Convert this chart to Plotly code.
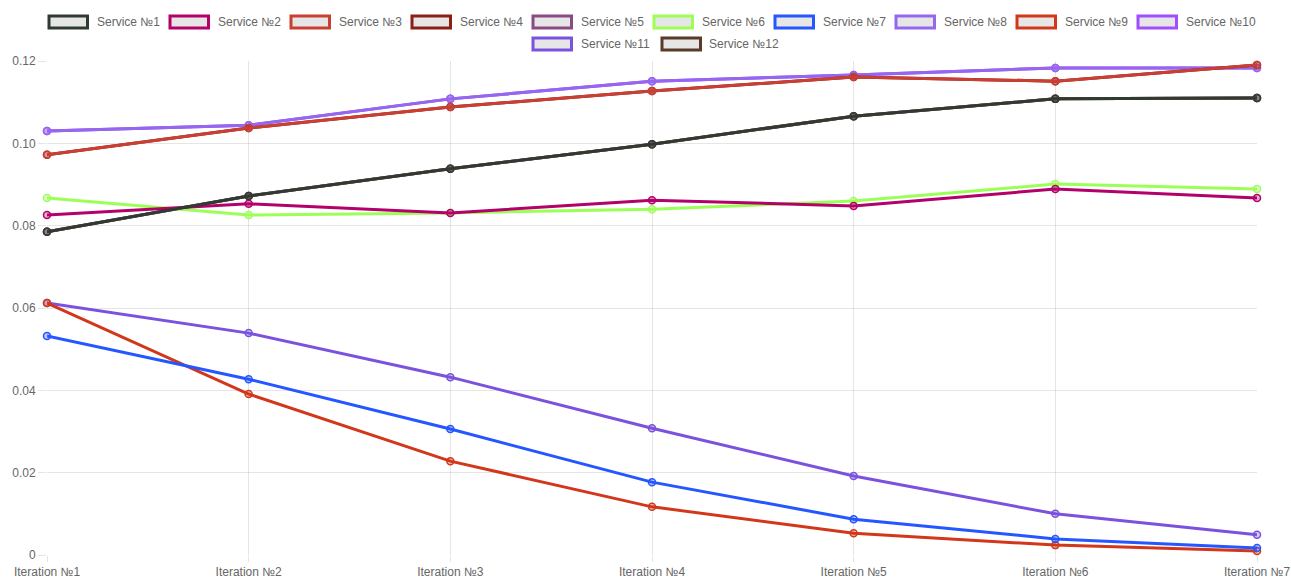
import plotly.graph_objects as go

iterations = ["Iteration №1", "Iteration №2", "Iteration №3", "Iteration №4",
              "Iteration №5", "Iteration №6", "Iteration №7"]

names = ["Service №1", "Service №2", "Service №3", "Service №4", "Service №5", "Service №6",
         "Service №7", "Service №8", "Service №9", "Service №10", "Service №11", "Service №12"]

colors = ["#2e3b2e", "#b3006b", "#c93f33", "#8c1f14", "#8a4a82", "#9cff57",
          "#2457ff", "#9467ee", "#d2371b", "#a24dff", "#7a52de", "#5c3a2a"]

s1 = [0.0785, 0.0872, 0.0938, 0.0998, 0.1066, 0.1108, 0.1110]
s2 = [0.0826, 0.0853, 0.0831, 0.0862, 0.0848, 0.0889, 0.0867]
s3 = [0.0972, 0.1037, 0.1088, 0.1127, 0.1161, 0.1151, 0.1190]
s4 = [0.0972, 0.1037, 0.1088, 0.1127, 0.1161, 0.1151, 0.1190]
s5 = [0.0785, 0.0872, 0.0938, 0.0998, 0.1066, 0.1108, 0.1110]
s6 = [0.0867, 0.0826, 0.0831, 0.0840, 0.0860, 0.0901, 0.0889]
s7 = [0.0532, 0.0427, 0.0306, 0.0177, 0.0087, 0.0039, 0.0017]
s8 = [0.1030, 0.1044, 0.1108, 0.1151, 0.1166, 0.1183, 0.1183]
s9 = [0.0612, 0.0391, 0.0228, 0.0117, 0.0053, 0.0024, 0.0010]
s10 = [0.1030, 0.1044, 0.1108, 0.1151, 0.1166, 0.1183, 0.1183]
s11 = [0.0612, 0.0539, 0.0432, 0.0308, 0.0192, 0.0100, 0.0049]
s12 = [0.0785, 0.0872, 0.0938, 0.0998, 0.1066, 0.1108, 0.1110]
series = [s1, s2, s3, s4, s5, s6, s7, s8, s9, s10, s11, s12]

y_ticks = [0, 0.02, 0.04, 0.06, 0.08, 0.10, 0.12]
y_labels = ["0", "0.02", "0.04", "0.06", "0.08", "0.10", "0.12"]

W, H = 1291, 578
L, R, T, B = 47, 1257, 61, 555
FONT = "Liberation Sans, Arial, Helvetica, sans-serif"
GRID = "rgba(0,0,0,0.1)"


def rgba(hexc, a):
    h = hexc.lstrip("#")
    return "rgba(%d,%d,%d,%.2f)" % (int(h[0:2], 16), int(h[2:4], 16), int(h[4:6], 16), a)


fig = go.Figure()
# Chart.js draws the first dataset on top -> add in reverse order
for i in reversed(range(len(names))):
    fig.add_trace(go.Scatter(
        x=iterations, y=series[i], name=names[i], mode="lines+markers",
        line=dict(color=colors[i], width=3),
        marker=dict(size=7, color=rgba(colors[i], 0.3), line=dict(color=colors[i], width=1.5)),
        showlegend=False, cliponaxis=False,
    ))


def px2x(px):
    return (px - L) / (R - L)


def py2y(py):
    return (B - py) / (B - T)


# Chart.js-style legend (boxes + labels), wrapped and centered
def text_w(name):
    digits = sum(c.isdigit() for c in name)
    return 54 + 8 * digits


items = [(n, c, 59 + text_w(n)) for n, c in zip(names, colors)]
rows, cur, cur_w = [], [], 0
for it in items:
    if cur and cur_w + it[2] > W:
        rows.append((cur, cur_w))
        cur, cur_w = [], 0
    cur.append(it)
    cur_w += it[2]
rows.append((cur, cur_w))

shapes, annotations = [], []
for r, (row, lw) in enumerate(rows):
    cy = 22 + 22 * r
    x = (W - lw) / 2 + 11 + (4 if r > 0 else 0)
    for n, c, w in row:
        shapes.append(dict(type="rect", xref="paper", yref="paper",
                           x0=px2x(x + 1.5), x1=px2x(x + 40), y0=py2y(cy + 6), y1=py2y(cy - 6),
                           line=dict(color=c, width=3), fillcolor="#e6e6e6", layer="above"))
        annotations.append(dict(xref="paper", yref="paper", x=px2x(x + 47), y=py2y(cy),
                                text=n, showarrow=False, xanchor="left", yanchor="middle",
                                font=dict(family=FONT, size=12, color="#666666")))
        x += w

fig.update_layout(
    width=W, height=H,
    margin=dict(l=L, r=W - R, t=T, b=H - B, pad=0, autoexpand=False),
    paper_bgcolor="white", plot_bgcolor="white",
    font=dict(family=FONT, size=12, color="#666666"),
    showlegend=False,
    shapes=shapes, annotations=annotations,
    xaxis=dict(range=[0, len(iterations) - 1], showgrid=True, gridcolor=GRID, gridwidth=1,
               ticks="outside", ticklen=6, tickcolor=GRID, showline=False, zeroline=False,
               automargin=False,
               tickfont=dict(family=FONT, size=12, color="#666666")),
    yaxis=dict(range=[0, 0.12], tickvals=y_ticks, ticktext=y_labels, showgrid=True,
               gridcolor=GRID, gridwidth=1, ticks="outside", ticklen=8, tickcolor=GRID,
               showline=False, zeroline=False, automargin=False,
               tickfont=dict(family=FONT, size=12, color="#666666")),
)

fig.write_html("out.html")
